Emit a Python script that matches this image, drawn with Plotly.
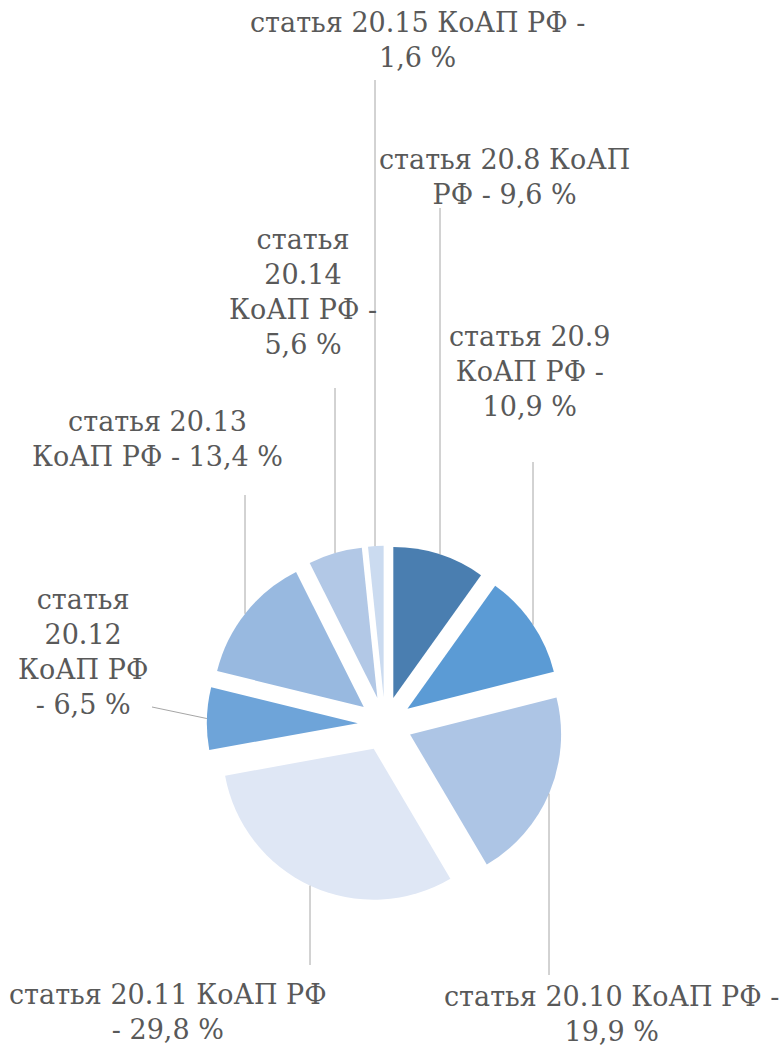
import math
import plotly.graph_objects as go

# ---------------- data ----------------
articles = ["20.8", "20.9", "20.10", "20.11", "20.12", "20.13", "20.14", "20.15"]
values = [9.6, 10.9, 19.9, 29.8, 6.5, 13.4, 5.6, 1.6]
colors = ["#4A7EB0", "#5B9BD5", "#ADC5E5", "#DFE7F5", "#6EA4D9", "#98B9E0", "#B2C8E6", "#CBDBF0"]

# ---------------- layout constants ----------------
W, H = 781, 1052
PIE_CX, PIE_CY, PIE_R, PULL = 385, 724, 151, 0.18
FONT = dict(family="DejaVu Serif", size=27, color="#595959")
LINE_COLOR = "#A6A6A6"

# words per line for each label
wraps = [[3, 4], [2, 3, 2], [5, 2], [4, 3], [1, 1, 2, 3], [2, 5], [1, 1, 3, 2], [5, 2]]
# label centres (px)
label_pos = [(504, 177), (530, 371), (611, 1014), (168, 1012), (83, 652), (157, 439), (303, 292), (417, 40)]
# leader lines: ("v", x, y_text_end) vertical, or ("p", x, y) from mid-arc point
leaders = [("v", 440, 208), ("v", 533, 462), ("v", 549, 975), ("v", 310, 965),
           ("p", 152, 707), ("v", 245, 495), ("v", 335, 388), ("v", 375, 80)]


def px(x):
    return x / W


def py(y):
    return 1 - y / H


box = PIE_R * (2 + 2 * PULL)
fig = go.Figure(go.Pie(
    values=values,
    labels=["статья " + a + " КоАП РФ" for a in articles],
    marker=dict(colors=colors, line=dict(width=0)),
    pull=[PULL] * len(values),
    sort=False,
    direction="clockwise",
    rotation=0,
    textinfo="none",
    hoverinfo="label+value",
    showlegend=False,
    domain=dict(x=[px(PIE_CX - box / 2), px(PIE_CX + box / 2)],
                y=[py(PIE_CY + box / 2), py(PIE_CY - box / 2)]),
))

total = sum(values)
cum = 0.0
shapes = []
annotations = []
for i, (art, v) in enumerate(zip(articles, values)):
    a0 = cum / total * 2 * math.pi
    cum += v
    a1 = cum / total * 2 * math.pi
    am = (a0 + a1) / 2
    pcx = PIE_CX + PULL * PIE_R * math.sin(am)
    pcy = PIE_CY - PULL * PIE_R * math.cos(am)

    kind, lx, ly = leaders[i]
    if kind == "v":
        dy = math.sqrt(max(PIE_R ** 2 - (lx - pcx) ** 2, 0))
        yarc = pcy - dy if ly < pcy else pcy + dy
        x0, y0, x1, y1 = lx, yarc, lx, ly
    else:
        x0 = pcx + PIE_R * math.sin(am)
        y0 = pcy - PIE_R * math.cos(am)
        x1, y1 = lx, ly
    shapes.append(dict(type="line", xref="paper", yref="paper",
                       x0=px(x0), y0=py(y0), x1=px(x1), y1=py(y1),
                       line=dict(color=LINE_COLOR, width=1)))

    words = ("статья " + art + " КоАП РФ - " + f"{v:.1f}".replace(".", ",") + " %").split(" ")
    lines, k = [], 0
    for n in wraps[i]:
        lines.append(" ".join(words[k:k + n]))
        k += n
    tx, ty = label_pos[i]
    annotations.append(dict(text="<br>".join(lines), x=px(tx), y=py(ty),
                            xref="paper", yref="paper", xanchor="center", yanchor="middle",
                            showarrow=False, align="center", font=FONT))

fig.update_layout(
    width=W, height=H,
    margin=dict(l=0, r=0, t=0, b=0),
    paper_bgcolor="white", plot_bgcolor="white",
    shapes=shapes, annotations=annotations,
)
fig.write_html("out.html", config={"displayModeBar": False},
               post_script="document.body.style.margin='0';")
